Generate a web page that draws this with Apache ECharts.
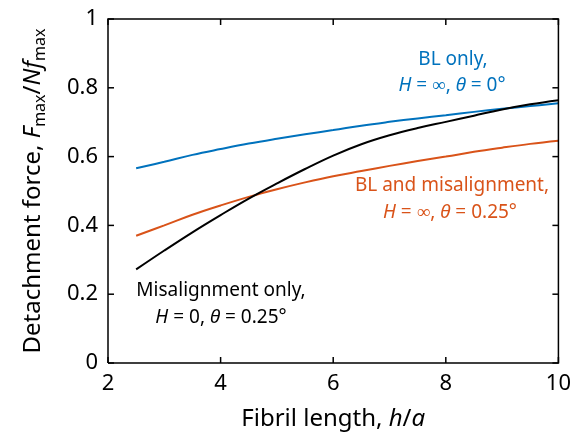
<!DOCTYPE html>
<html><head><meta charset="utf-8">
<script src="https://cdn.jsdelivr.net/npm/echarts@6/dist/echarts.min.js"></script>
<style>html,body{margin:0;padding:0;background:#fff}#c{width:574px;height:442px}</style>
</head><body><div id="c"></div>
<script>
var hValues = [2.5, 3, 3.5, 4, 4.5, 5, 5.5, 6, 6.5, 7, 7.5, 8, 8.5, 9, 9.5, 10];
var blOnly = [0.566, 0.585, 0.605, 0.622, 0.638, 0.652, 0.665, 0.677, 0.690, 0.701, 0.711, 0.720, 0.730, 0.739, 0.747, 0.755];
var blMisalign = [0.370, 0.400, 0.431, 0.458, 0.483, 0.505, 0.525, 0.543, 0.558, 0.573, 0.587, 0.600, 0.614, 0.626, 0.637, 0.646];
var misalignOnly = [0.272, 0.327, 0.380, 0.430, 0.478, 0.522, 0.564, 0.603, 0.636, 0.662, 0.683, 0.701, 0.719, 0.737, 0.752, 0.764];
var xTicks = [2, 4, 6, 8, 10];
var yTicks = [0, 0.2, 0.4, 0.6, 0.8, 1];

function pairs(ys){ return hValues.map(function(x,i){ return [x, ys[i]]; }); }
var FONT = 'Noto Sans';
var X0 = xTicks[0], X1 = xTicks[xTicks.length-1], Y0 = yTicks[0], Y1 = yTicks[yTicks.length-1];
var TICK = 6;

// frame + inward ticks on all four sides, drawn through the axis scales
var frameData = [[X0, Y0, 2]]
  .concat(xTicks.map(function(v){ return [v, Y0, 0]; }))
  .concat(yTicks.map(function(v){ return [X0, v, 1]; }));

function poly(points){
  return {type:'polyline', shape:{points:points}, style:{stroke:'#000', lineWidth:1.5, fill:null}, silent:true};
}
function renderFrame(params, api){
  var kind = api.value(2);
  var p0 = api.coord([X0, Y0]);
  var p1 = api.coord([X1, Y1]);
  var left = p0[0], bottom = p0[1], right = p1[0], top = p1[1];
  if (kind === 2){
    return {type:'group', children:[poly([[left,bottom],[right,bottom],[right,top],[left,top],[left,bottom]])]};
  }
  if (kind === 0){
    var px = api.coord([api.value(0), Y0])[0];
    return {type:'group', children:[poly([[px,bottom],[px,bottom-TICK]]), poly([[px,top],[px,top+TICK]])]};
  }
  var py = api.coord([X0, api.value(1)])[1];
  return {type:'group', children:[poly([[left,py],[left+TICK,py]]), poly([[right,py],[right-TICK,py]])]};
}

var chart = echarts.init(document.getElementById('c'));
chart.setOption({
  animation:false,
  grid:{left:108, right:14, top:19, bottom:79},
  xAxis:{
    type:'value', min:X0, max:X1, interval:2,
    axisLine:{show:false}, axisTick:{show:false}, splitLine:{show:false},
    axisLabel:{color:'#000', fontSize:22, fontFamily:FONT, margin:10},
    name:'{n|Fibril length, }{i|h}{n|/}{i|a}', nameLocation:'middle', nameGap:44,
    nameTextStyle:{rich:{n:{fontSize:24, fontFamily:FONT, color:'#000'}, i:{fontSize:24, fontFamily:FONT, fontStyle:'italic', color:'#000'}}}
  },
  yAxis:{
    type:'value', min:Y0, max:Y1, interval:0.2,
    axisLine:{show:false}, axisTick:{show:false}, splitLine:{show:false},
    axisLabel:{color:'#000', fontSize:22, fontFamily:FONT, margin:10},
    name:'{n|Detachment force, }{i|F}{s|max}{n|/}{i|Nf}{s|max}', nameLocation:'middle', nameGap:60, nameRotate:90,
    nameTextStyle:{rich:{
      n:{fontSize:24, fontFamily:FONT, color:'#000', lineHeight:30},
      i:{fontSize:24, fontFamily:FONT, fontStyle:'italic', color:'#000', lineHeight:30},
      s:{fontSize:16, fontFamily:FONT, color:'#000', lineHeight:16, verticalAlign:'bottom'}
    }}
  },
  series:[
    {type:'line', name:'BL only', data:pairs(blOnly), showSymbol:false, smooth:0.4, lineStyle:{color:'#0072BD', width:2}, z:3},
    {type:'line', name:'BL and misalignment', data:pairs(blMisalign), showSymbol:false, smooth:0.4, lineStyle:{color:'#D95319', width:2}, z:3},
    {type:'line', name:'Misalignment only', data:pairs(misalignOnly), showSymbol:false, smooth:0.4, lineStyle:{color:'#000000', width:2}, z:4},
    {type:'custom', name:'frame', data:frameData, renderItem:renderFrame, clip:false, silent:true, z:5,
      encode:{x:0, y:1}}
  ],
  graphic:[
    {type:'text', x:453, y:50, style:{text:'BL only,', fill:'#0072BD', font:'19px "'+FONT+'"', align:'center'}},
    {type:'text', x:452, y:76, style:{text:'{i|H} = ∞, {i|θ} = 0°', fill:'#0072BD', font:'19px "'+FONT+'"', align:'center',
      rich:{i:{fontStyle:'italic', fontSize:19, fontFamily:FONT, fill:'#0072BD'}}}},
    {type:'text', x:452, y:176, style:{text:'BL and misalignment,', fill:'#D95319', font:'19px "'+FONT+'"', align:'center'}},
    {type:'text', x:450, y:203, style:{text:'{i|H} = ∞, {i|θ} = 0.25°', fill:'#D95319', font:'19px "'+FONT+'"', align:'center',
      rich:{i:{fontStyle:'italic', fontSize:19, fontFamily:FONT, fill:'#D95319'}}}},
    {type:'text', x:221, y:281, style:{text:'Misalignment only,', fill:'#000', font:'19px "'+FONT+'"', align:'center'}},
    {type:'text', x:221, y:308, style:{text:'{i|H} = 0, {i|θ} = 0.25°', fill:'#000', font:'19px "'+FONT+'"', align:'center',
      rich:{i:{fontStyle:'italic', fontSize:19, fontFamily:FONT, fill:'#000'}}}}
  ]
});
</script></body></html>
